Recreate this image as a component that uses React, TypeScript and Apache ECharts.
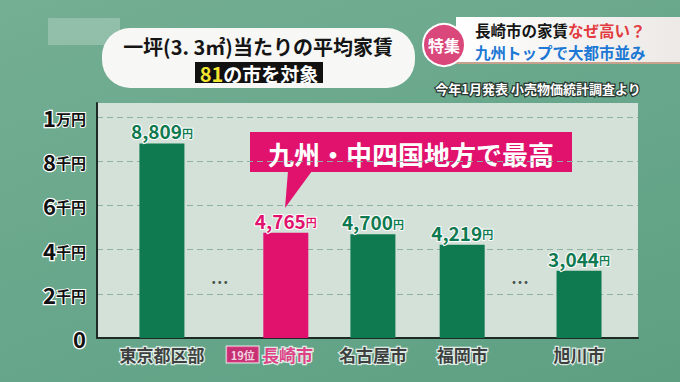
import React, { useEffect, useRef } from "react";
import * as echarts from "echarts";

// ---- data ----
const categories = ["東京都区部", "長崎市", "名古屋市", "福岡市", "旭川市"];
const rents = [8809, 4765, 4700, 4219, 3044];
const highlightIndex = 1;
const highlightRank = "19位";
const yTickValues = [0, 2000, 4000, 6000, 8000, 10000];
const yTickNumbers = ["0", "2", "4", "6", "8", "1"];
const yTickUnits = ["", "千円", "千円", "千円", "千円", "万円"];
const gapMark = "…";
const gapLevel = [2600, 2600];

// ---- layout (x positions of the irregularly spaced slots, 0..100) ----
const slotPositions = [12.0, 34.9, 51.0, 67.5, 89.1];
const gapPositions = [22.7, 78.2];

const GREEN = "#0f7a50";
const PINK = "#e0126e";
const FONT = "'Noto Sans CJK JP', 'Noto Sans', sans-serif";

export default function App() {
  const ref = useRef<HTMLDivElement>(null);
  useEffect(() => {
    if (!ref.current) return;
    const chart = echarts.init(ref.current, null, { renderer: "svg" });

    const barData = rents.map((v, i) => ({
      value: [slotPositions[i], v],
      itemStyle: { color: i === highlightIndex ? PINK : GREEN },
      label: {
        color: i === highlightIndex ? PINK : GREEN,
        rich: {
          n: { fontSize: 19, fontWeight: "bold", fontFamily: FONT, color: i === highlightIndex ? PINK : GREEN, textBorderColor: "#fff", textBorderWidth: 2 },
          u: { fontSize: 11, fontWeight: "bold", fontFamily: FONT, color: i === highlightIndex ? PINK : GREEN, textBorderColor: "#fff", textBorderWidth: 2, padding: [4, 0, 0, 0] },
        },
      },
    }));

    const nameData = categories.map((c, i) => ({
      value: [slotPositions[i], 0],
      name: c,
      label:
        i === highlightIndex
          ? {
              formatter: `{badge|${highlightRank}} {p|${c}}`,
              offset: [-16, 0],
            }
          : { formatter: `{b|${c}}` },
    }));

    const option: any = {
      animation: false,
      grid: {
        left: 97,
        right: 42,
        top: 103,
        bottom: 44,
        show: true,
        backgroundColor: "#d4e1d9",
        borderWidth: 0,
      },
      xAxis: {
        type: "value",
        min: 0,
        max: 100,
        axisLine: { show: true, onZero: true, lineStyle: { color: "#1d2a25", width: 2 } },
        axisTick: { show: false },
        axisLabel: { show: false },
        splitLine: { show: false },
      },
      yAxis: {
        type: "value",
        min: 0,
        max: 10640,
        interval: 2000,
        axisLine: { show: true, lineStyle: { color: "#1d2a25", width: 2 } },
        axisTick: { show: false },
        splitLine: {
          show: true,
          showMinLine: false,
          showMaxLine: false,
          lineStyle: { color: "#8eb2a1", type: [6, 4], width: 1 },
        },
        axisLabel: {
          showMaxLabel: false,
          margin: 11,
          formatter: (v: number) => {
            const k = yTickValues.indexOf(v);
            if (k < 0) return "";
            return yTickUnits[k] ? `{n|${yTickNumbers[k]}}{u|${yTickUnits[k]}}` : `{n|${yTickNumbers[k]}}`;
          },
          rich: {
            n: { fontSize: 22, fontWeight: "bold", fontFamily: FONT, color: "#111", textBorderColor: "#fff", textBorderWidth: 2.5 },
            u: { fontSize: 15, fontWeight: "bold", fontFamily: FONT, color: "#111", textBorderColor: "#fff", textBorderWidth: 2, padding: [3, 0, 0, 0] },
          },
        },
      },
      series: [
        {
          type: "bar",
          barWidth: 45,
          data: barData,
          label: {
            show: true,
            position: "top",
            distance: 3,
            formatter: (p: any) => `{n|${Number(p.value[1]).toLocaleString("en-US")}}{u|円}`,
          },
        },
        {
          type: "scatter",
          symbolSize: 0,
          data: nameData,
          label: {
            show: true,
            position: "bottom",
            distance: 8,
            rich: {
              b: { fontSize: 17, fontWeight: "bold", fontFamily: FONT, color: "#111", textBorderColor: "#fff", textBorderWidth: 2.5 },
              p: { fontSize: 17, fontWeight: "bold", fontFamily: FONT, color: PINK, textBorderColor: "#fff", textBorderWidth: 2.5 },
              badge: {
                fontSize: 11,
                fontWeight: "bold",
                fontFamily: FONT,
                color: "#fff",
                backgroundColor: PINK,
                borderColor: "#fff",
                borderWidth: 1,
                padding: [3, 4, 2, 4],
              },
            },
          },
        },
        {
          type: "scatter",
          symbolSize: 0,
          data: gapPositions.map((x, i) => [x, gapLevel[i]]),
          label: {
            show: true,
            position: "inside",
            formatter: gapMark,
            fontSize: 18,
            fontWeight: "bold",
            fontFamily: FONT,
            color: "#1d2a25",
          },
        },
      ],
      graphic: [
        // faint blurred logo block
        { type: "rect", shape: { x: 48, y: 18, width: 72, height: 27 }, style: { fill: "rgba(255,255,255,0.22)" } },
        // title pill
        { type: "rect", shape: { x: 102, y: 28, width: 313, height: 60, r: 28 }, style: { fill: "#f7f8f6" } },
        {
          type: "text",
          x: 258,
          y: 46,
          style: { text: "一坪(3. 3㎡)当たりの平均家賃", fontSize: 20, lineHeight: 22, fontWeight: "bold", fontFamily: FONT, fill: "#151515", align: "center", verticalAlign: "middle" },
        },
        { type: "rect", shape: { x: 195, y: 62, width: 128, height: 21 }, style: { fill: "#111" } },
        {
          type: "text",
          x: 259,
          y: 73,
          style: {
            text: "{y|81}{w|の市を対象}",
            align: "center",
            verticalAlign: "middle",
            rich: {
              y: { fontSize: 20, lineHeight: 20, fontWeight: "bold", fontFamily: FONT, fill: "#f2e530" },
              w: { fontSize: 19, lineHeight: 20, fontWeight: "bold", fontFamily: FONT, fill: "#fff" },
            },
          },
        },
        // top-right banner
        {
          type: "rect",
          shape: { x: 456, y: 17, width: 224, height: 46 },
          style: {
            fill: new echarts.graphic.LinearGradient(0, 0, 1, 0, [
              { offset: 0, color: "#ffffff" },
              { offset: 1, color: "#ece9e6" },
            ]),
          },
        },
        { type: "rect", shape: { x: 456, y: 62, width: 224, height: 2 }, style: { fill: "#c9a28e" } },
        { type: "circle", shape: { cx: 444, cy: 45, r: 21 }, style: { fill: "#d9477b", stroke: "#fff", lineWidth: 2 } },
        {
          type: "text",
          x: 444,
          y: 45,
          style: { text: "特集", fontSize: 16, fontWeight: "bold", fontFamily: FONT, fill: "#fff", align: "center", verticalAlign: "middle" },
        },
        {
          type: "text",
          x: 475,
          y: 30,
          style: { text: "長崎市の家賃", fontSize: 15.5, fontWeight: "bold", fontFamily: FONT, fill: "#151515", verticalAlign: "middle" },
        },
        {
          type: "text",
          x: 568,
          y: 30,
          style: { text: "なぜ高い？", fontSize: 15.5, fontWeight: "bold", fontFamily: FONT, fill: "#e23a40", verticalAlign: "middle" },
        },
        {
          type: "text",
          x: 475,
          y: 52,
          style: { text: "九州トップで大都市並み", fontSize: 15.5, fontWeight: "bold", fontFamily: FONT, fill: "#1c78d4", verticalAlign: "middle" },
        },
        // source
        {
          type: "text",
          x: 538,
          y: 88,
          style: {
            text: "今年1月発表 小売物価統計調査より",
            fontSize: 13,
            fontWeight: "bold",
            fontFamily: FONT,
            fill: "#fff",
            stroke: "#2a3a33",
            lineWidth: 2.5,
            align: "center",
            verticalAlign: "middle",
          },
        },
        // callout
        { type: "polygon", shape: { points: [[288, 171], [312, 171], [285, 208]] }, style: { fill: PINK } },
        { type: "rect", shape: { x: 250, y: 132, width: 322, height: 40 }, style: { fill: PINK } },
        {
          type: "text",
          x: 411,
          y: 153,
          style: { text: "九州・中四国地方で最高", fontSize: 26, fontWeight: "bold", fontFamily: FONT, fill: "#fff", align: "center", verticalAlign: "middle" },
        },
      ],
    };

    chart.setOption(option);
    return () => chart.dispose();
  }, []);

  return (
    <div
      style={{
        position: "fixed",
        left: 0,
        top: 0,
        width: 680,
        height: 382,
        background: "linear-gradient(160deg, #74ae93 0%, #68a78b 50%, #5e9f82 100%)",
      }}
    >
      <div ref={ref} style={{ width: 680, height: 382 }} />
    </div>
  );
}
